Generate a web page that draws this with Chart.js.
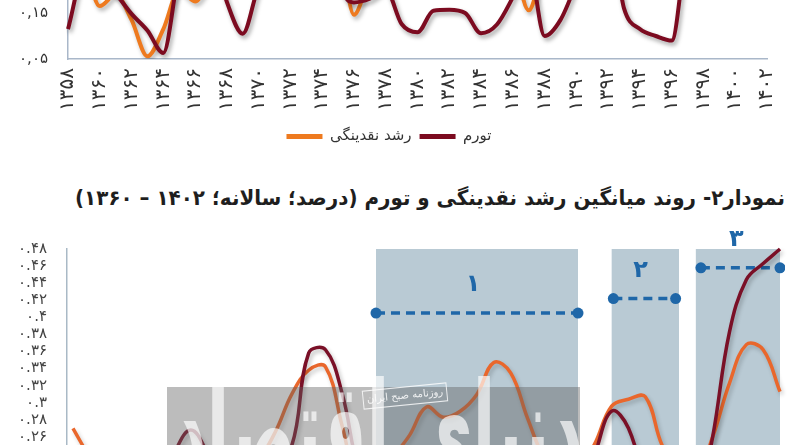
<!DOCTYPE html>
<html>
<head>
<meta charset="utf-8">
<script src="https://cdn.jsdelivr.net/npm/chart.js@4.4.1/dist/chart.umd.min.js"></script>
<style>
html,body{margin:0;padding:0;background:#fff;width:800px;height:445px;overflow:hidden;position:relative;}
#graphHaut{position:absolute;left:0;top:-200px;}
#graphBas{position:absolute;left:0;top:220px;}
#titre{position:absolute;right:15px;top:186px;direction:rtl;font-weight:bold;font-size:21px;font-family:'DejaVu Sans',sans-serif;color:#1e1e1e;white-space:nowrap;transform-origin:right center;}
</style>
</head>
<body>
<canvas id="graphHaut" width="800" height="360"></canvas>
<div id="titre">نمودار۲- روند میانگین رشد نقدینگی و تورم (درصد؛ سالانه؛ ۱۴۰۲ – ۱۳۶۰)</div>
<canvas id="graphBas" width="800" height="280"></canvas>
<script>
// graphique du haut : donnees annuelles 1358 - 1402
var anneesHaut = [1358,1359,1360,1361,1362,1363,1364,1365,1366,1367,1368,1369,1370,1371,1372,1373,1374,1375,1376,1377,1378,1379,1380,1381,1382,1383,1384,1385,1386,1387,1388,1389,1390,1391,1392,1393,1394,1395,1396,1397,1398,1399,1400,1401,1402];
var nagdinegi = [0.38,0.27,0.165,0.19,0.135,0.056,0.115,0.2,0.175,0.22,0.24,0.21,0.25,0.25,0.32,0.33,0.36,0.32,0.146,0.21,0.2,0.29,0.29,0.3,0.26,0.31,0.35,0.39,0.28,0.156,0.24,0.22,0.2,0.29,0.39,0.22,0.3,0.23,0.22,0.23,0.31,0.41,0.39,0.31,0.25];
var tavarom = [0.115,0.235,0.228,0.192,0.148,0.112,0.063,0.237,0.277,0.289,0.174,0.105,0.207,0.244,0.229,0.352,0.494,0.232,0.173,0.181,0.201,0.126,0.108,0.155,0.157,0.15,0.106,0.125,0.184,0.254,0.1,0.135,0.215,0.305,0.347,0.16,0.115,0.1,0.09,0.312,0.412,0.471,0.462,0.465,0.407];

// graphique du bas : moyennes 1360 - 1402
var anneesBas = [1360,1361,1362,1363,1364,1365,1366,1367,1368,1369,1370,1371,1372,1373,1374,1375,1376,1377,1378,1379,1380,1381,1382,1383,1384,1385,1386,1387,1388,1389,1390,1391,1392,1393,1394,1395,1396,1397,1398,1399,1400,1401,1402];
var nagdinegiMoy = [0.27,0.235,0.2,0.16,0.15,0.17,0.19,0.2,0.21,0.22,0.23,0.235,0.265,0.31,0.338,0.342,0.272,0.2,0.2,0.235,0.262,0.295,0.283,0.29,0.31,0.347,0.335,0.282,0.235,0.215,0.22,0.252,0.296,0.304,0.307,0.25,0.22,0.215,0.26,0.323,0.368,0.362,0.313];
var tavaromMoy = [0.22,0.21,0.19,0.15,0.14,0.19,0.24,0.268,0.24,0.19,0.18,0.21,0.235,0.25,0.358,0.362,0.31,0.22,0.19,0.17,0.14,0.13,0.15,0.15,0.13,0.12,0.15,0.19,0.18,0.15,0.19,0.24,0.29,0.27,0.2,0.12,0.11,0.17,0.26,0.383,0.444,0.463,0.48];

// periodes et niveaux moyens
var periodes = ['۱','۲','۳'];
var debutPeriode = [1378,1392,1397];
var finPeriode = [1390,1396,1402];
var debutTrait = [1378,1392.1,1397.3];
var finTrait = [1390,1395.8,1402];
var niveauPeriode = [0.405,0.422,0.458];

var police = "'DejaVu Sans', sans-serif";
var orangeHaut = '#EE7A1F';
var rougeHaut = '#7C0B20';
var orangeBas = '#E9672C';
var rougeBas = '#7A1027';
var bleu = '#1F67A8';

function toFa(s){
  return String(s).replace(/[0-9]/g, function(c){ return '۰۱۲۳۴۵۶۷۸۹'.charAt(+c); });
}

// ombre sous les courbes
var ombre = {
  id:'ombre',
  beforeDatasetDraw: function(chart, args){
    var ctx = chart.ctx;
    ctx.save();
    var ds = chart.data.datasets[args.index];
    if(ds.ombre){
      ctx.shadowColor = ds.ombre;
      ctx.shadowBlur = 4;
      ctx.shadowOffsetX = 2;
      ctx.shadowOffsetY = 3;
    }
  },
  afterDatasetDraw: function(chart){
    chart.ctx.restore();
  }
};

function legendeSansBord(chart){
  var items = Chart.defaults.plugins.legend.labels.generateLabels(chart);
  items.forEach(function(it){ it.lineWidth = 0; });
  return items;
}

//config graphique du haut
var ctxH = document.getElementById('graphHaut').getContext('2d');
var grapheHaut = new Chart(ctxH, {
type: 'line',
data: {
labels: anneesHaut,
datasets: [{
label: 'تورم',
data: tavarom,
borderColor: rougeHaut,
backgroundColor: rougeHaut,
borderWidth: 4,
pointRadius: 0,
cubicInterpolationMode: 'monotone',
ombre: 'rgba(0,0,0,0.35)'
},{
label: 'رشد نقدینگی',
data: nagdinegi,
borderColor: orangeHaut,
backgroundColor: orangeHaut,
borderWidth: 4,
pointRadius: 0,
cubicInterpolationMode: 'monotone',
ombre: 'rgba(0,0,0,0.3)'
}]
},
options: {
responsive: false,
animation: false,
layout: {padding: {top: 21, right: 22, bottom: 6, left: 0}},
plugins: {
legend: {position: 'bottom', reverse: true, labels: {boxWidth: 36, boxHeight: 5, padding: 8, color: '#333', font: {size: 15, family: police}, generateLabels: legendeSansBord}},
tooltip: {enabled: false}
},
scales: {
x: {
grid: {display: false, drawTicks: false},
border: {color: '#A9B7C9', width: 1.5},
ticks: {autoSkip: false, minRotation: 90, maxRotation: 90, padding: 9, color: '#333', font: {size: 20, family: police},
callback: function(v, i){ var a = anneesHaut[i]; return a % 2 == 0 ? toFa(a) : ''; }},
afterFit: function(s){ s.height = 62; }
},
y: {
min: 0.05, max: 0.55,
grid: {display: false, drawTicks: false},
border: {color: '#A9B7C9', width: 1.5},
ticks: {stepSize: 0.1, padding: 20, color: '#333', font: {size: 15, family: police},
callback: function(v){ return toFa(v.toFixed(2)).replace('.', ','); }},
afterFit: function(s){ s.width = 68; }
}
}
},
plugins: [ombre]
});

// zones grisees, numeros des periodes et filigrane
var periodesPlugin = {
  id: 'periodes',
  beforeDatasetsDraw: function(chart){
    var ctx = chart.ctx, xs = chart.scales.x, a = chart.chartArea;
    ctx.save();
    ctx.fillStyle = '#B9CAD4';
    for(var i = 0; i < debutPeriode.length; i++){
      var x1 = xs.getPixelForValue(debutPeriode[i]);
      var x2 = xs.getPixelForValue(finPeriode[i]);
      ctx.fillRect(x1, a.top, x2 - x1, a.bottom - a.top);
    }
    ctx.restore();
  },
  afterDatasetsDraw: function(chart){
    var ctx = chart.ctx, xs = chart.scales.x, ys = chart.scales.y;
    ctx.save();
    ctx.fillStyle = bleu;
    ctx.font = 'bold 24px ' + police;
    ctx.textAlign = 'center';
    ctx.textBaseline = 'middle';
    for(var i = 0; i < periodes.length; i++){
      var xm = (xs.getPixelForValue(debutTrait[i]) + xs.getPixelForValue(finTrait[i])) / 2;
      ctx.fillText(periodes[i], xm - 4, ys.getPixelForValue(niveauPeriode[i]) - 28);
    }
    ctx.restore();
  },
  afterDraw: function(chart){
    var ctx = chart.ctx;
    ctx.save();
    // bandeau du filigrane
    ctx.fillStyle = 'rgba(95,95,95,0.42)';
    ctx.fillRect(167, 167, 413, 120);
    // logo
    ctx.fillStyle = 'rgba(255,255,255,0.68)';
    ctx.font = 'bold 130px ' + police;
    ctx.textAlign = 'center';
    ctx.textBaseline = 'alphabetic';
    ctx.direction = 'rtl';
    var t = 'دنیای اقتصاد';
    var w = ctx.measureText(t).width;
    ctx.translate(378, 255);
    ctx.scale(410 / w, 1);
    ctx.fillText(t, 0, 0);
    ctx.restore();
    ctx.save();
    ctx.translate(405, 176);
    ctx.rotate(-0.1);
    ctx.strokeStyle = 'rgba(255,255,255,0.8)';
    ctx.lineWidth = 1;
    ctx.strokeRect(-42, -9, 84, 18);
    ctx.fillStyle = 'rgba(255,255,255,0.85)';
    ctx.font = '10px ' + police;
    ctx.textAlign = 'center';
    ctx.textBaseline = 'middle';
    ctx.direction = 'rtl';
    ctx.fillText('روزنامه صبح ایران', 0, 0);
    ctx.restore();
  }
};

var serieNagdinegi = anneesBas.map(function(a, i){ return {x: a, y: nagdinegiMoy[i]}; });
var serieTavarom = anneesBas.map(function(a, i){ return {x: a, y: tavaromMoy[i]}; });
var traits = niveauPeriode.map(function(n, i){
  return {
    label: 'دوره ' + periodes[i],
    data: [{x: debutTrait[i], y: n}, {x: finTrait[i], y: n}],
    borderColor: bleu,
    backgroundColor: bleu,
    borderWidth: 3.5,
    borderDash: [9, 6],
    pointRadius: 5.5,
    pointBorderWidth: 0,
    pointBackgroundColor: bleu
  };
});

//config graphique du bas
var ctxB = document.getElementById('graphBas').getContext('2d');
var grapheBas = new Chart(ctxB, {
type: 'line',
data: {
datasets: [{
label: 'تورم',
data: serieTavarom,
borderColor: rougeBas,
borderWidth: 3.5,
pointRadius: 0,
tension: 0.4,
clip: false,
ombre: 'rgba(0,0,0,0.25)'
},{
label: 'رشد نقدینگی',
data: serieNagdinegi,
borderColor: orangeBas,
borderWidth: 3.5,
pointRadius: 0,
tension: 0.4,
clip: false,
ombre: 'rgba(0,0,0,0.2)'
}].concat(traits)
},
options: {
responsive: false,
animation: false,
layout: {padding: {top: 24, right: 15, bottom: 17, left: 0}},
plugins: {legend: {display: false}, tooltip: {enabled: false}},
scales: {
x: {type: 'linear', display: false, min: 1359.644, max: 1402.297},
y: {
min: 0.22, max: 0.48,
grid: {display: false, drawTicks: false},
border: {color: '#A9B9C6', width: 1.5},
ticks: {stepSize: 0.02, autoSkip: false, padding: 20, color: '#444', font: {size: 15, family: police},
callback: function(v){ return toFa(String(parseFloat(v.toFixed(2)))); }},
afterFit: function(s){ s.width = 67; }
}
}
},
plugins: [ombre, periodesPlugin]
});

// ajuste la largeur du titre
var titre = document.getElementById('titre');
var lg = titre.getBoundingClientRect().width;
titre.style.transform = 'scaleX(' + (710 / lg) + ')';
</script>
</body>
</html>
